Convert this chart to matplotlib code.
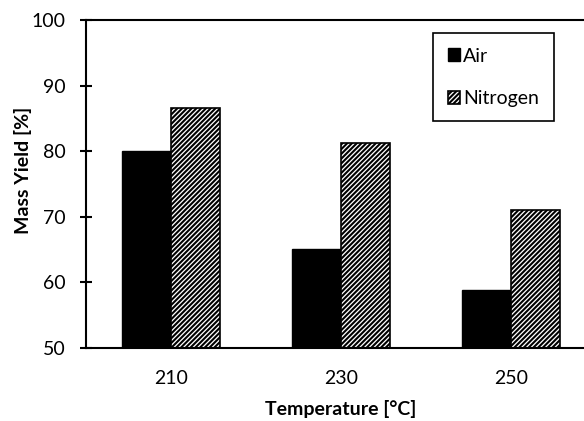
import numpy as np
import matplotlib.pyplot as plt

temperatures = ['210', '230', '250']
air_yield = [80.0, 65.1, 58.9]
nitrogen_yield = [86.6, 81.3, 71.0]

plt.rcParams['font.family'] = ['Lato', 'DejaVu Sans']
plt.rcParams['hatch.linewidth'] = 1.5
plt.rcParams['hatch.color'] = 'black'

fig = plt.figure(figsize=(5.84, 4.21), dpi=100)
# right side of the plot area runs past the edge of the picture
ax = fig.add_axes([86/584, 73/421, 510/584, 328/421])

x = np.arange(len(temperatures))
w = 0.288
ax.bar(x - w/2, air_yield, w, color='black', edgecolor='black', linewidth=1.0, label='Air')
ax.bar(x + w/2, nitrogen_yield, w, color='white', edgecolor='black', linewidth=1.2,
       hatch='///////', label='Nitrogen')

ax.set_xlim(-0.5, 2.5)
ax.set_ylim(50, 100)
ax.set_yticks(range(50, 101, 10))
ax.set_xticks(x)
ax.set_xticklabels(temperatures)

for s in ax.spines.values():
    s.set_linewidth(1.5)

ax.tick_params(axis='y', direction='inout', length=9, width=1.5, labelsize=14, pad=10)
ax.tick_params(axis='x', length=0, labelsize=14, pad=16)

ax.set_xlabel('Temperature [°C]', fontsize=14, fontweight='bold', labelpad=9)
ax.set_ylabel('Mass Yield [%]', fontsize=14, fontweight='bold')
ax.yaxis.set_label_coords(-0.106, 0.543)

leg = ax.legend(loc='upper left', bbox_to_anchor=(433/584, 1 - 33/421),
                bbox_transform=fig.transFigure, fontsize=14, frameon=True,
                fancybox=False, edgecolor='black', framealpha=1,
                handlelength=0.65, handleheight=0.65, handletextpad=0.15,
                labelspacing=1.3, borderpad=0.75, borderaxespad=0)
leg.get_frame().set_linewidth(1.2)

fig.savefig('out.png', dpi=100)
